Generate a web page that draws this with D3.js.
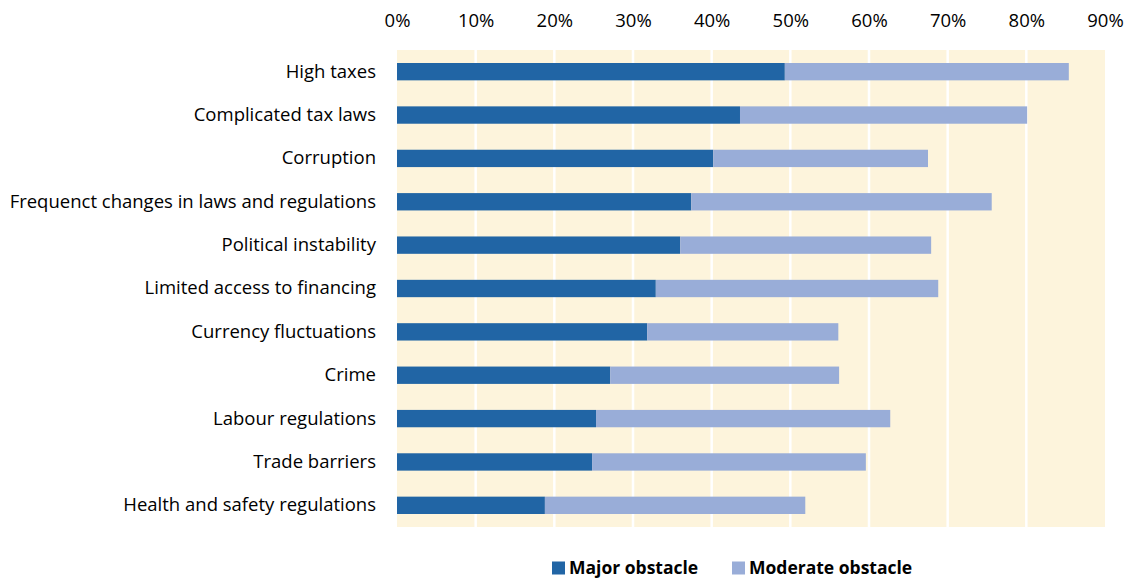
<!DOCTYPE html>
<html>
<head>
<meta charset="utf-8">
<script src="https://cdn.jsdelivr.net/npm/d3@7"></script>
<style>
  body { margin: 0; background: #fff; }
  text { font-family: "Open Sans", sans-serif; fill: #000; }
</style>
</head>
<body>
<script>
// data
var categories = ["High taxes", "Complicated tax laws", "Corruption",
  "Frequenct changes in laws and regulations", "Political instability",
  "Limited access to financing", "Currency fluctuations", "Crime",
  "Labour regulations", "Trade barriers", "Health and safety regulations"];
var major = [49.3, 43.6, 40.2, 37.4, 36.0, 32.9, 31.8, 27.1, 25.3, 24.8, 18.8];
var moderate = [36.1, 36.5, 27.3, 38.2, 31.9, 35.9, 24.3, 29.1, 37.4, 34.8, 33.1];
var tickValues = [0, 10, 20, 30, 40, 50, 60, 70, 80, 90];
var seriesNames = ["Major obstacle", "Moderate obstacle"];

var colors = ["#2165a5", "#99add8"];
var W = 1129, H = 580;
var margin = {top: 50, right: 24, bottom: 53, left: 397};
var iw = W - margin.left - margin.right, ih = H - margin.top - margin.bottom;

var svg = d3.select("body").append("svg").attr("width", W).attr("height", H);
var g = svg.append("g").attr("transform", "translate(" + margin.left + "," + margin.top + ")");

var x = d3.scaleLinear().domain([0, 90]).range([0, iw]);
var y = d3.scaleBand().domain(categories).range([0, ih]).paddingInner(0.6).paddingOuter(0.3);

// background
g.append("rect").attr("width", iw).attr("height", ih).attr("fill", "#fdf4dc");

// gridlines
g.selectAll(".grid").data(tickValues.slice(1, -1)).enter().append("line")
  .attr("x1", d => x(d)).attr("x2", d => x(d))
  .attr("y1", 0).attr("y2", ih)
  .attr("stroke", "#fff").attr("stroke-width", 2.5);

// top axis
var ax = g.append("g").call(d3.axisTop(x).tickValues(tickValues).tickFormat(d => d + "%").tickSize(0).tickPadding(23));
ax.select(".domain").remove();
ax.selectAll("text").style("font-size", "18.5px").style("font-family", "'Open Sans', sans-serif").attr("fill", "#000");

// left axis
var ay = g.append("g").call(d3.axisLeft(y).tickSize(0).tickPadding(21));
ay.select(".domain").remove();
ay.selectAll("text").style("font-size", "18.5px").style("font-family", "'Open Sans', sans-serif").attr("fill", "#000");

// stacked bars
var rows = categories.map((c, i) => ({cat: c, major: major[i], moderate: moderate[i]}));
var stack = d3.stack().keys(["major", "moderate"])(rows);
g.selectAll(".series").data(stack).enter().append("g")
  .attr("fill", (d, i) => colors[i])
  .selectAll("rect").data(d => d).enter().append("rect")
  .attr("x", d => x(d[0]))
  .attr("y", d => y(d.data.cat))
  .attr("width", d => x(d[1]) - x(d[0]))
  .attr("height", y.bandwidth());

// legend
var legend = svg.append("g").attr("transform", "translate(552,568)");
var lx = [0, 180];
seriesNames.forEach(function(name, i) {
  var lg = legend.append("g").attr("transform", "translate(" + lx[i] + ",0)");
  lg.append("rect").attr("x", 0).attr("y", -6.5).attr("width", 13).attr("height", 13).attr("fill", colors[i]);
  lg.append("text").attr("x", 17).attr("y", 0).attr("dy", "0.35em")
    .style("font-size", "17.5px").style("font-weight", "bold").text(name);
});
</script>
</body>
</html>
